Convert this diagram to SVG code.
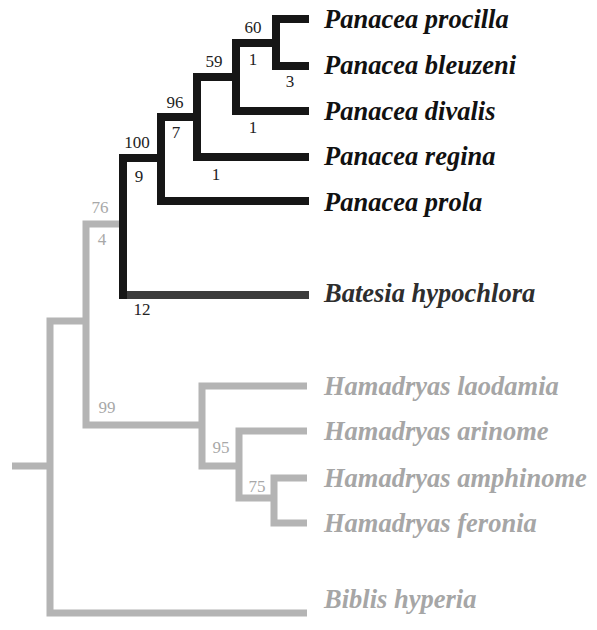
<svg xmlns="http://www.w3.org/2000/svg" width="597" height="630" viewBox="0 0 597 630">
<style>
.blk{fill:none;stroke:#161616;stroke-width:8;stroke-linejoin:miter}
.dg{fill:none;stroke:#3c3c3c;stroke-width:8}
.gr{fill:none;stroke:#b4b4b4;stroke-width:7;stroke-linejoin:miter}
.spb{fill:#111}
.spd{fill:#2e2e2e}
.spg{fill:#a6a6a6}
.nb{fill:#222}
.ng{fill:#a8a8a8}
</style>
<rect width="597" height="630" fill="#fff"/>
<g id="connectors">
<path class="gr" d="M12,466 H50"/>
<path class="gr" d="M86,321 H50 V613 H307"/>
<path class="gr" d="M123,224 H86 V425 H202"/>
<path class="gr" d="M307,386 H202 V466 H239"/>
<path class="gr" d="M307,431 H239 V498 H274"/>
<path class="gr" d="M307,478 H274 V523 H307"/>
<path class="blk" d="M161,158 H123 V295 H309"/>
<path class="dg" d="M127,295 H309"/>
<path class="blk" d="M197,117 H161 V201 H309"/>
<path class="blk" d="M236,77 H197 V157 H309"/>
<path class="blk" d="M276,43 H236 V111 H309"/>
<path class="blk" d="M309,19 H276 V66 H309"/>
</g>
<g font-family="Liberation Serif, Times New Roman, serif" font-weight="bold" font-style="italic" font-size="26.5">
<g id="leaf-procilla"><text class="spb" x="324" y="28">Panacea procilla</text></g>
<g id="leaf-bleuzeni"><text class="spb" x="324" y="74">Panacea bleuzeni</text></g>
<g id="leaf-divalis"><text class="spb" x="324" y="120">Panacea divalis</text></g>
<g id="leaf-regina"><text class="spb" x="324" y="165">Panacea regina</text></g>
<g id="leaf-prola"><text class="spb" x="324" y="211">Panacea prola</text></g>
<g id="leaf-batesia"><text class="spd" x="324" y="302">Batesia hypochlora</text></g>
<g id="leaf-laodamia"><text class="spg" x="324" y="395">Hamadryas laodamia</text></g>
<g id="leaf-arinome"><text class="spg" x="324" y="440">Hamadryas arinome</text></g>
<g id="leaf-amphinome"><text class="spg" x="324" y="487">Hamadryas amphinome</text></g>
<g id="leaf-feronia"><text class="spg" x="324" y="532">Hamadryas feronia</text></g>
<g id="leaf-biblis"><text class="spg" x="324" y="608">Biblis hyperia</text></g>
</g>
<g font-family="Liberation Serif, Times New Roman, serif" font-size="17" text-anchor="middle">
<g id="node-60"><text class="nb" x="253" y="33">60</text><text class="nb" x="253" y="65">1</text></g>
<g id="node-bleuzeni-branch"><text class="nb" x="290" y="87">3</text></g>
<g id="node-59"><text class="nb" x="214" y="67">59</text></g>
<g id="node-divalis-branch"><text class="nb" x="253" y="133">1</text></g>
<g id="node-96"><text class="nb" x="175" y="108">96</text><text class="nb" x="176" y="138">7</text></g>
<g id="node-regina-branch"><text class="nb" x="216" y="180">1</text></g>
<g id="node-100"><text class="nb" x="137" y="148">100</text><text class="nb" x="139" y="182">9</text></g>
<g id="node-76"><text class="ng" x="100" y="213">76</text><text class="ng" x="102" y="245">4</text></g>
<g id="node-batesia-branch"><text class="nb" x="142" y="315">12</text></g>
<g id="node-99"><text class="ng" x="107" y="413">99</text></g>
<g id="node-95"><text class="ng" x="221" y="453">95</text></g>
<g id="node-75"><text class="ng" x="257" y="492">75</text></g>
</g>
</svg>
